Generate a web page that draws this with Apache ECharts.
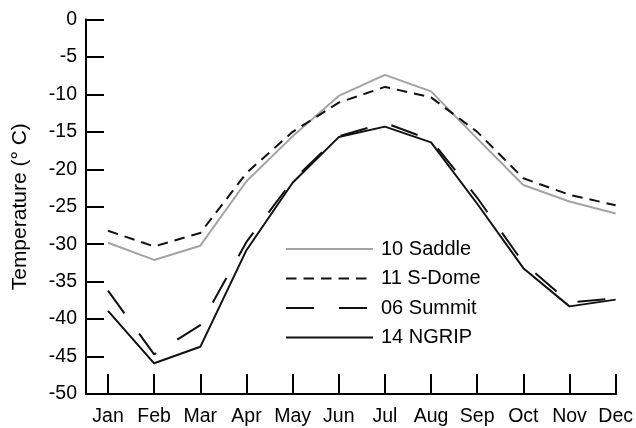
<!DOCTYPE html>
<html>
<head>
<meta charset="utf-8">
<script src="https://cdn.jsdelivr.net/npm/echarts@6/dist/echarts.min.js"></script>
<style>html,body{margin:0;padding:0;background:#fff;}#c{width:636px;height:428px;}</style>
</head>
<body>
<div id="c"></div>
<script>
var months = ['Jan','Feb','Mar','Apr','May','Jun','Jul','Aug','Sep','Oct','Nov','Dec'];
var saddle = [-29.8, -32.1, -30.2, -21.6, -15.6, -10.2, -7.4, -9.6, -15.9, -22.1, -24.3, -25.9];
var sdome  = [-28.2, -30.3, -28.5, -20.5, -15.0, -11.1, -9.0, -10.4, -15.0, -21.2, -23.4, -24.8];
var summit = [-36.2, -44.7, -40.8, -29.7, -21.5, -15.6, -13.8, -16.1, -23.8, -32.5, -37.8, -37.2];
var ngrip  = [-38.9, -45.9, -43.7, -30.8, -21.8, -15.7, -14.3, -16.4, -24.6, -33.2, -38.3, -37.4];
var yMin = -50, yMax = 0, yStep = 5;

var FONT = "'Liberation Sans', Arial, Helvetica, sans-serif";
var chart = echarts.init(document.getElementById('c'), null, {renderer: 'canvas'});
chart.setOption({
  backgroundColor: '#fff',
  animation: false,
  textStyle: {fontFamily: FONT},
  grid: [
    {left: 86, right: 20, top: 19.5, bottom: 34},
    {left: 108, right: 20, top: 19.5, bottom: 34}
  ],
  xAxis: [
    {gridIndex: 0, type: 'value', min: 0, max: 1, position: 'bottom',
     axisLine: {show: true, onZero: false, lineStyle: {color: '#000', width: 2}},
     axisTick: {show: false}, axisLabel: {show: false}, splitLine: {show: false}},
    {gridIndex: 1, type: 'category', data: months, boundaryGap: false, position: 'bottom',
     axisLine: {show: true, onZero: false, lineStyle: {color: '#000', width: 2}},
     axisTick: {show: true, inside: true, length: 20, interval: 0, lineStyle: {color: '#000', width: 2}},
     axisLabel: {color: '#000', fontSize: 19.5, fontFamily: FONT, margin: 13, interval: 0},
     splitLine: {show: false}}
  ],
  yAxis: [
    {gridIndex: 0, type: 'value', min: yMin, max: yMax, interval: yStep,
     name: 'Temperature (° C)', nameLocation: 'middle', nameGap: 55, nameRotate: 90,
     nameTextStyle: {color: '#000', fontSize: 21, fontFamily: FONT},
     axisLine: {show: true, onZero: false, lineStyle: {color: '#000', width: 2}},
     axisTick: {show: true, inside: true, length: 18, lineStyle: {color: '#000', width: 2}},
     axisLabel: {color: '#000', fontSize: 19.5, fontFamily: FONT, margin: 9},
     splitLine: {show: false}},
    {gridIndex: 1, type: 'value', min: yMin, max: yMax, show: false}
  ],
  legend: {
    orient: 'vertical', left: 285, top: 239, padding: 0,
    itemWidth: 87, itemHeight: 20, itemGap: 9.5,
    itemStyle: {opacity: 0},
    textStyle: {color: '#000', fontSize: 20, fontFamily: FONT, padding: [0, 0, 0, 3]},
    data: ['10 Saddle', '11 S-Dome', '06 Summit', '14 NGRIP']
  },
  series: [
    {name: '10 Saddle', type: 'line', xAxisIndex: 1, yAxisIndex: 1, data: saddle,
     symbol: 'none', lineStyle: {color: '#a3a3a3', width: 2}, itemStyle: {color: '#a3a3a3'}},
    {name: '11 S-Dome', type: 'line', xAxisIndex: 1, yAxisIndex: 1, data: sdome,
     symbol: 'none', lineStyle: {color: '#111', width: 2, type: [10.5, 7]}, itemStyle: {color: '#111'}},
    {name: '06 Summit', type: 'line', xAxisIndex: 1, yAxisIndex: 1, data: summit,
     symbol: 'none', lineStyle: {color: '#111', width: 2, type: [28, 25]}, itemStyle: {color: '#111'}},
    {name: '14 NGRIP', type: 'line', xAxisIndex: 1, yAxisIndex: 1, data: ngrip,
     symbol: 'none', lineStyle: {color: '#111', width: 2}, itemStyle: {color: '#111'}}
  ]
});
</script>
</body>
</html>
